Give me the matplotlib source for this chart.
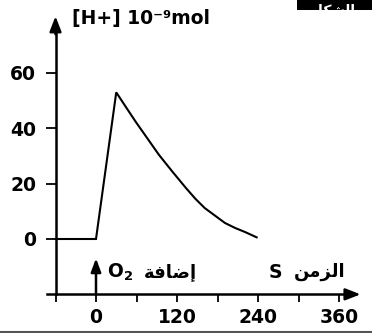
import matplotlib
matplotlib.use("Agg")
import matplotlib.pyplot as plt

plt.rcParams['font.family'] = ['DejaVu Sans']
plt.rcParams['font.weight'] = 'bold'
plt.rcParams['mathtext.fontset'] = 'custom'
plt.rcParams['mathtext.rm'] = 'DejaVu Sans:bold'
plt.rcParams['mathtext.bf'] = 'DejaVu Sans:bold'
plt.rcParams['mathtext.default'] = 'bf'

# ---- data ----
time_s = [-60, 0, 30, 44, 59, 93, 113, 133, 147, 161, 191, 206, 221, 238]
h_ion = [0, 0, 53, 47.8, 42.3, 30.5, 24.4, 18.5, 14.6, 11.2, 5.8, 4.0, 2.5, 0.6]
y_ticks = [0, 20, 40, 60]
x_ticks = [0, 120, 240, 360]
x_minor = [-60, 60, 180, 300]
y_label = "[H+] 10\u207b\u2079mol"
# Arabic (shaped presentation forms, visual order)
txt_add = "\uFE94\uFED3\uFE8E\uFEBF\uFE87"      # إضافة
txt_time = "\uFEE6\uFEE3\uFEB0\uFEDF\uFE8D"     # الزمن
fig_tag = "\uFE8F \uFEDE\uFEDC\uFEB7\uFEDF\uFE8D"  # الشكل ب

W, H = 372, 333
fig = plt.figure(figsize=(W / 100, H / 100), dpi=100)
ax = fig.add_axes([0, 0, 1, 1])
ax.set_facecolor('none')
# pixel mapping: x0 at px 96, 0.675 px/unit ; y0 at py 239, 2.767 px/unit
ax.set_xlim((0 - 96) / 0.675, (W - 96) / 0.675)
ax.set_ylim((239 - H) / 2.767, 239 / 2.767)

lw_ax = 1.8
for s in ['top', 'right']:
    ax.spines[s].set_visible(False)
ax.spines['left'].set_position(('data', -60))
ax.spines['bottom'].set_position(('data', -20))
ax.spines['left'].set_bounds(-20, 76)
ax.spines['bottom'].set_bounds(-73, 380)
for s in ['left', 'bottom']:
    ax.spines[s].set_linewidth(lw_ax)

# arrowheads of axes
ax.annotate('', xy=(-60, 80.5), xytext=(-60, 74),
            arrowprops=dict(arrowstyle='-|>,head_length=0.9,head_width=0.35',
                            color='black', lw=lw_ax, shrinkA=0, shrinkB=0))
ax.annotate('', xy=(392, -20), xytext=(378, -20),
            arrowprops=dict(arrowstyle='-|>,head_length=0.9,head_width=0.35',
                            color='black', lw=lw_ax, shrinkA=0, shrinkB=0))

ax.set_yticks(y_ticks)
ax.set_yticklabels([str(v) for v in y_ticks])
ax.set_xticks(x_ticks)
ax.set_xticklabels([str(v) for v in x_ticks])
ax.set_xticks(x_minor, minor=True)
ax.tick_params(axis='y', direction='out', length=7, width=1.3, pad=7,
               labelsize=13.5)
ax.tick_params(axis='x', which='both', direction='out', length=6, width=1.3,
               pad=4, labelsize=13.5)
for lab in ax.get_xticklabels() + ax.get_yticklabels():
    lab.set_fontweight('bold')

# curve
ax.plot(time_s, h_ion, color='black', lw=1.5, solid_joinstyle='miter')

# O2 addition arrow
ax.annotate('', xy=(0, -7), xytext=(0, -20),
            arrowprops=dict(arrowstyle='-|>,head_length=0.8,head_width=0.3',
                            color='black', lw=1.8, shrinkA=0, shrinkB=0))
ax.text(17, -12, "O$_2$", fontsize=13.5, fontweight='bold', ha='left', va='center')
ax.text(150, -12, txt_add, fontsize=13, fontweight='bold', ha='right',
        va='center')
ax.text(256, -12, "S", fontsize=13.5, fontweight='bold', ha='left', va='center')
ax.text(370, -12, txt_time, fontsize=13, fontweight='bold', ha='right',
        va='center')

# y label
ax.text(-36, 77.7, y_label, fontsize=13.5, fontweight='bold', ha='left',
        va='baseline')

# top-right black tag (cropped)
tag_ax = fig.add_axes([297 / W, 1 - 10 / H, 75 / W, 10 / H])
tag_ax.set_facecolor('black')
tag_ax.set_xticks([]); tag_ax.set_yticks([])
for s in tag_ax.spines.values():
    s.set_visible(False)
tag_ax.text(0.35, 0.0, fig_tag, color='white', fontsize=10, fontweight='bold',
            ha='center', va='center', clip_on=True,
            transform=tag_ax.transAxes)

# bottom grey rule
fig.add_artist(plt.Line2D([0, 1], [1.5 / H, 1.5 / H], transform=fig.transFigure,
                          color='#555555', lw=1.5))

fig.savefig('out.png', dpi=100)
